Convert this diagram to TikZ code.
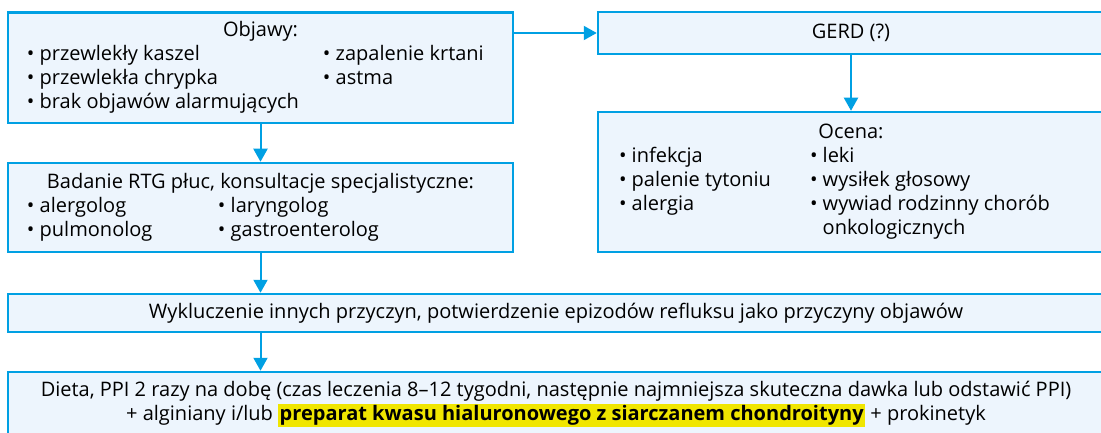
\documentclass[tikz,border=0pt]{standalone}
\usepackage{fontspec}
\setmainfont{Open Sans}
\usetikzlibrary{arrows.meta,positioning}

\definecolor{ramka}{RGB}{0,160,227}
\definecolor{tlo}{RGB}{237,245,253}
\definecolor{zakreslacz}{RGB}{240,230,0}

\tikzset{
	kasten/.style={draw=ramka, fill=tlo, line width=2.5pt, inner sep=0pt, align=center,
		font=\fontsize{20}{24}\selectfont},
	strzalka/.style={draw=ramka, line width=2pt, -{Triangle[length=13pt,width=14pt]}},
}
\newcommand{\pkt}{\textbullet~}

\begin{document}
\begin{tikzpicture}[x=1pt, y=-1pt]
	\useasboundingbox (0,0) rectangle (1101,433); % Rand wie im Original
	
	% linke Spalte
	\node[kasten, minimum width=505pt, minimum height=110.5pt] (objawy) at (260.5,67.75) {%
		\begin{tabular}{@{}p{296pt}@{}p{171pt}@{}}
			\multicolumn{2}{@{}c@{}}{Objawy:}\\
			\pkt przewlekły kaszel & \pkt zapalenie krtani\\
			\pkt przewlekła chrypka & \pkt astma\\
			\pkt brak objawów alarmujących &
		\end{tabular}};
	
	\node[kasten, minimum width=505pt, minimum height=89pt] (badanie) at (260.5,207.5) {%
		\begin{tabular}{@{}p{191pt}@{}p{276pt}@{}}
			\multicolumn{2}{@{}c@{}}{Badanie RTG płuc, konsultacje specjalistyczne:}\\
			\pkt alergolog & \pkt laryngolog\\
			\pkt pulmonolog & \pkt gastroenterolog
		\end{tabular}};
	
	% rechte Spalte
	\node[kasten, minimum width=506pt, minimum height=42pt] (gerd) at (851,33) {GERD (?)};
	
	\node[kasten, minimum width=506pt, minimum height=140pt] (ocena) at (851,182) {%
		\begin{tabular}{@{}p{191pt}@{}p{273pt}@{}}
			\multicolumn{2}{@{}c@{}}{Ocena:}\\
			\pkt infekcja & \pkt leki\\
			\pkt palenie tytoniu & \pkt wysiłek głosowy\\
			\pkt alergia & \pkt wywiad rodzinny chorób\\
			& \hphantom{\pkt}onkologicznych
		\end{tabular}};
	
	% unten, ganze Breite
	\node[kasten, minimum width=1096pt, minimum height=38pt] (wyklucz) at (556,313)
		{Wykluczenie innych przyczyn, potwierdzenie epizodów refluksu jako przyczyny objawów};
	
	\node[kasten, minimum width=1096pt, minimum height=64pt] (dieta) at (556,404)
		{Dieta, PPI 2 razy na dobę (czas leczenia 8–12 tygodni, następnie najmniejsza skuteczna dawka lub odstawić PPI)\\
		+ alginiany i/lub {\setlength{\fboxsep}{1.5pt}\colorbox{zakreslacz}{\textbf{preparat kwasu hialuronowego z siarczanem chondroityny}}} + prokinetyk};
	
	% Pfeile
	\draw[strzalka] (objawy.east |- gerd.west) -- (gerd.west);
	\draw[strzalka] (gerd.south) -- (ocena.north);
	\draw[strzalka] (objawy.south) -- (badanie.north);
	\draw[strzalka] (badanie.south) -- (wyklucz.north -| badanie.south);
	\draw[strzalka] (wyklucz.south -| badanie.south) -- (dieta.north -| badanie.south);
	
	%\draw[help lines, step=50] (0,0) grid (1101,433);
\end{tikzpicture}
\end{document}
